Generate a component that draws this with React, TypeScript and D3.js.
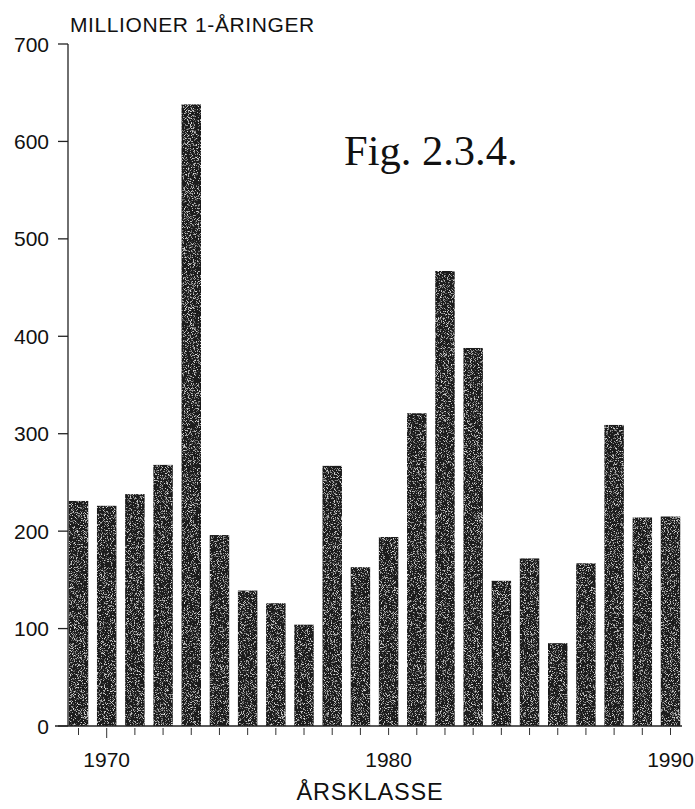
import React from "react";
import * as d3 from "d3";

// Year classes and abundance (millions of 1-year-olds)
const years: number[] = [
  1969, 1970, 1971, 1972, 1973, 1974, 1975, 1976, 1977, 1978, 1979,
  1980, 1981, 1982, 1983, 1984, 1985, 1986, 1987, 1988, 1989, 1990,
];
const recruits: number[] = [
  231, 226, 238, 268, 638, 196, 139, 126, 104, 267, 163,
  194, 321, 467, 388, 149, 172, 85, 167, 309, 214, 215,
];
const yTicks: number[] = [0, 100, 200, 300, 400, 500, 600, 700];
const xLabelYears: number[] = [1970, 1980, 1990];

const W = 695;
const H = 809;
const sans = "'Liberation Sans', Arial, Helvetica, sans-serif";
const serif = "'Liberation Serif', 'Times New Roman', serif";

export default function App() {
  const y = d3.scaleLinear().domain([0, 700]).range([726, 44]);
  const x = d3.scalePoint<number>().domain(years).range([78.5, 670.5]);
  const barW = x.step() * 0.69;
  const axisX = 68;
  const baseY = y(0);

  return (
    <svg
      width={W}
      height={H}
      viewBox={`0 0 ${W} ${H}`}
      style={{ position: "absolute", left: 0, top: 0, background: "#fff" }}
    >
      <defs>
        {/* printed-halftone speckle for the bar fill */}
        <filter id="grain" x="0" y="0" width="100%" height="100%">
          <feTurbulence type="fractalNoise" baseFrequency="1.3" numOctaves="2" seed="5" result="n" />
          <feColorMatrix
            in="n"
            type="matrix"
            values="0 0 0 0 0.72  0 0 0 0 0.72  0 0 0 0 0.72  4.5 0 0 0 -2.45"
            result="speck"
          />
          <feComposite in="speck" in2="SourceGraphic" operator="in" result="s2" />
          <feMerge>
            <feMergeNode in="SourceGraphic" />
            <feMergeNode in="s2" />
          </feMerge>
        </filter>
      </defs>

      {/* bars */}
      <g filter="url(#grain)">
        {years.map((yr, i) => (
          <rect
            key={yr}
            x={(x(yr) as number) - barW / 2}
            y={y(recruits[i])}
            width={barW}
            height={baseY - y(recruits[i])}
            fill="#1a1a1a"
          />
        ))}
      </g>

      {/* y axis */}
      <line x1={axisX} x2={axisX} y1={y(700)} y2={baseY} stroke="#222" strokeWidth={1.3} />
      {yTicks.map((t) => (
        <g key={t}>
          <line x1={axisX - 10} x2={axisX} y1={y(t)} y2={y(t)} stroke="#222" strokeWidth={1.3} />
          <text
            x={49}
            y={y(t)}
            dy="0.36em"
            textAnchor="end"
            fontFamily={sans}
            fontSize={21}
            fill="#111"
          >
            {t}
          </text>
        </g>
      ))}

      {/* x axis */}
      <line x1={55} x2={682} y1={baseY} y2={baseY} stroke="#222" strokeWidth={1.3} />
      {years.map((yr) => (
        <line
          key={yr}
          x1={x(yr) as number}
          x2={x(yr) as number}
          y1={baseY + 2}
          y2={baseY + (yr === 1970 ? 12 : 9)}
          stroke="#333"
          strokeWidth={1}
        />
      ))}
      {xLabelYears.map((yr) => (
        <text
          key={yr}
          x={x(yr) as number}
          y={767}
          textAnchor="middle"
          fontFamily={sans}
          fontSize={21}
          fill="#111"
        >
          {yr}
        </text>
      ))}

      {/* titles */}
      <text x={70} y={32} fontFamily={sans} fontSize={21} letterSpacing={0.6} fill="#111">
        MILLIONER 1-ÅRINGER
      </text>
      <text
        x={370}
        y={800}
        textAnchor="middle"
        fontFamily={sans}
        fontSize={23.5}
        letterSpacing={0.8}
        fill="#111"
      >
        ÅRSKLASSE
      </text>
      <text x={344} y={165} fontFamily={serif} fontSize={42.5} fill="#111">
        Fig. 2.3.4.
      </text>
    </svg>
  );
}
